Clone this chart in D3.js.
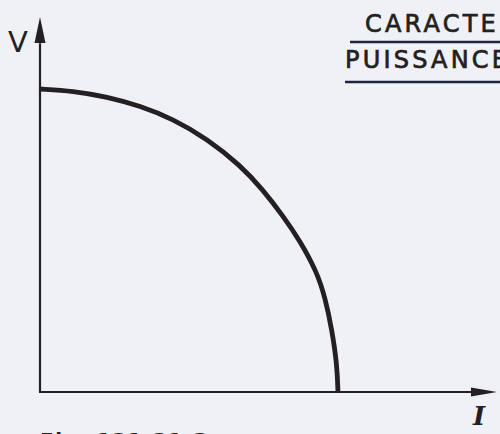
<!DOCTYPE html>
<html>
<head>
<meta charset="utf-8">
<script src="https://cdn.jsdelivr.net/npm/d3@7"></script>
<style>
    body { margin: 0; background: #eff1f6; overflow: hidden; }
    svg { display: block; }
</style>
</head>
<body>
<div id="chart"></div>
<script>
// current I vs voltage V, arbitrary units
var current = [0, 7.2, 14.7, 21.9, 29.1, 36.6, 43.8, 48.8, 53.2, 56.9, 60.6, 62.4, 63.9, 65.0, 65.2];
var voltage = [80.8, 80.3, 78.7, 76.3, 72.8, 67.5, 60.5, 53.9, 46.9, 40.3, 32.0, 25.1, 16.5, 7.2, 0];
var titleLines = ['CARACTERISTIQUE', 'PUISSANCE'];
var caption = 'Fig. 131-21-3';

var width = 500, height = 434;

var svg = d3.select('#chart').append('svg')
    .attr('width', width)
    .attr('height', height);

var x = d3.scaleLinear().domain([0, 100]).range([40, 497]);
var y = d3.scaleLinear().domain([0, 100]).range([392, 17]);

var ink = '#231f22';

// axes
svg.append('line')
    .attr('x1', x(0)).attr('y1', y(0))
    .attr('x2', x(0)).attr('y2', y(93))
    .attr('stroke', ink).attr('stroke-width', 2.2);
svg.append('line')
    .attr('x1', x(0) - 1).attr('y1', y(0))
    .attr('x2', x(95)).attr('y2', y(0))
    .attr('stroke', ink).attr('stroke-width', 2.2);

// arrow heads
svg.append('path')
    .attr('d', 'M' + x(0) + ',' + y(100) + 'L' + (x(0) + 5.5) + ',' + (y(100) + 26) + 'L' + (x(0) - 5.5) + ',' + (y(100) + 26) + 'Z')
    .attr('fill', ink);
svg.append('path')
    .attr('d', 'M' + x(100) + ',' + y(0) + 'L' + (x(100) - 26) + ',' + (y(0) - 4.5) + 'L' + (x(100) - 26) + ',' + (y(0) + 4.5) + 'Z')
    .attr('fill', ink);

// curve
var pts = current.map((c, i) => [c, voltage[i]]);
var line = d3.line()
    .x(d => x(d[0]))
    .y(d => y(d[1]))
    .curve(d3.curveBasis);

svg.append('path')
    .datum(pts)
    .attr('d', line)
    .attr('fill', 'none')
    .attr('stroke', ink)
    .attr('stroke-width', 4.8)
    .attr('stroke-linecap', 'butt');

// axis labels
svg.append('text')
    .attr('x', 18).attr('y', 52)
    .attr('text-anchor', 'middle')
    .attr('font-family', 'DejaVu Sans')
    .attr('font-size', 29)
    .attr('fill', ink)
    .text('V');

svg.append('text')
    .attr('x', 479).attr('y', 425)
    .attr('text-anchor', 'middle')
    .attr('font-family', 'DejaVu Serif')
    .attr('font-style', 'italic')
    .attr('font-weight', 'bold')
    .attr('font-size', 26)
    .attr('fill', ink)
    .text('I');

// title, cut off by the right edge
var titleStyle = sel => sel
    .attr('font-family', 'DejaVu Sans')
    .attr('font-size', 24)
    .attr('letter-spacing', 3.2)
    .attr('fill', ink)
    .attr('stroke', ink)
    .attr('stroke-width', 0.7);

svg.append('text')
    .attr('x', 365).attr('y', 32)
    .call(titleStyle)
    .text(titleLines[0]);
svg.append('line')
    .attr('x1', 350).attr('x2', 500).attr('y1', 42).attr('y2', 42)
    .attr('stroke', '#1d2440').attr('stroke-width', 2.5);
svg.append('text')
    .attr('x', 345).attr('y', 68)
    .call(titleStyle)
    .text(titleLines[1]);
svg.append('line')
    .attr('x1', 345).attr('x2', 500).attr('y1', 82).attr('y2', 82)
    .attr('stroke', '#1d2440').attr('stroke-width', 2.5);

// caption, mostly below the bottom edge
svg.append('text')
    .attr('x', 40).attr('y', 447)
    .attr('font-family', 'DejaVu Sans')
    .attr('font-weight', 'bold')
    .attr('font-size', 20)
    .attr('letter-spacing', 1.5)
    .attr('fill', ink)
    .text(caption);
</script>
</body>
</html>
